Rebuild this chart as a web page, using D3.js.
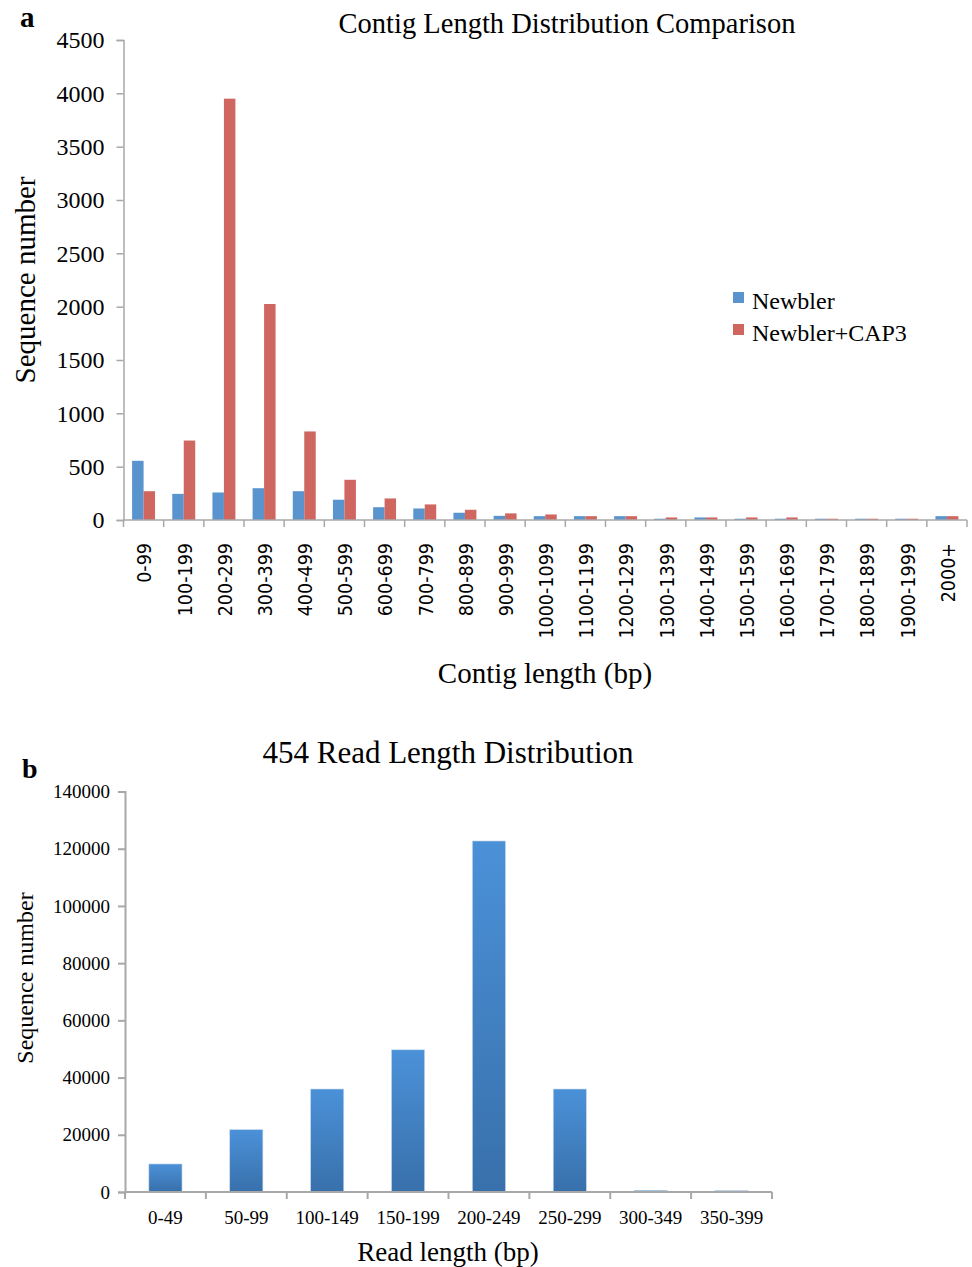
<!DOCTYPE html>
<html>
<head>
<meta charset="utf-8">
<script src="https://cdn.jsdelivr.net/npm/d3@7"></script>
<style>
  body { margin: 0; background: #fff; }
  text { font-family: "Liberation Serif", "Times New Roman", serif; fill: #000; }
</style>
</head>
<body>
<script>
// panel a data
var contigCats = ["0-99","100-199","200-299","300-399","400-499","500-599","600-699","700-799","800-899","900-999",
  "1000-1099","1100-1199","1200-1299","1300-1399","1400-1499","1500-1599","1600-1699","1700-1799","1800-1899","1900-1999","2000+"];
var seriesNames = ["Newbler", "Newbler+CAP3"];
var newbler = [555, 245, 258, 298, 270, 190, 120, 108, 68, 39, 36, 36, 36, 12, 24, 12, 12, 12, 12, 12, 36];
var newblerCap3 = [270, 745, 3950, 2025, 830, 377, 202, 146, 96, 62, 52, 36, 36, 24, 24, 24, 24, 12, 12, 12, 36];
var contigTicks = [0, 500, 1000, 1500, 2000, 2500, 3000, 3500, 4000, 4500];

// panel b data
var readCats = ["0-49","50-99","100-149","150-199","200-249","250-299","300-349","350-399"];
var readCounts = [9800, 21800, 36000, 49700, 122700, 36000, 600, 500];
var readTicks = [0, 20000, 40000, 60000, 80000, 100000, 120000, 140000];

var colors = { "Newbler": "#5a94cf", "Newbler+CAP3": "#cf6660" };
var axisColor = "#a8a8a8";

var svg = d3.select("body").append("svg").attr("width", 972).attr("height", 1267);

// ---------- panel a ----------
var x = d3.scaleBand().domain(contigCats).range([123.5, 967]);
var x1 = d3.scaleBand().domain(seriesNames).range([0, x.bandwidth()]).paddingOuter(0.75);
var y = d3.scaleLinear().domain([0, 4500]).range([520, 40]);

var rows = contigCats.map(function (c, i) {
  return { cat: c, vals: [ { s: "Newbler", v: newbler[i] }, { s: "Newbler+CAP3", v: newblerCap3[i] } ] };
});

var ga = svg.append("g");
ga.selectAll("g.grp").data(rows).enter().append("g")
  .attr("transform", function (d) { return "translate(" + x(d.cat) + ",0)"; })
  .selectAll("rect").data(function (d) { return d.vals; }).enter().append("rect")
  .attr("x", function (d) { return x1(d.s); })
  .attr("width", x1.bandwidth())
  .attr("y", function (d) { return y(d.v); })
  .attr("height", function (d) { return y(0) - y(d.v); })
  .attr("fill", function (d) { return colors[d.s]; });

// y axis a
var yAxisA = ga.append("g").attr("transform", "translate(123.5,0)")
  .call(d3.axisLeft(y).tickValues(contigTicks).tickSize(7).tickPadding(12).tickFormat(d3.format("d")));
yAxisA.select(".domain").attr("stroke", axisColor).attr("stroke-width", 1.5);
yAxisA.selectAll(".tick line").attr("stroke", axisColor).attr("stroke-width", 1.5);
yAxisA.selectAll(".tick text").style("font-family", "Liberation Serif, serif").style("font-size", "24px").attr("fill", "#000");

// x axis a
var xAxisA = ga.append("g").attr("transform", "translate(0,520)");
xAxisA.append("line").attr("x1", x.range()[0]).attr("x2", x.range()[1]).attr("stroke", axisColor).attr("stroke-width", 1.5);
xAxisA.selectAll("line.tk").data(contigCats.concat(["end"])).enter().append("line")
  .attr("x1", function (d) { return d === "end" ? x.range()[1] : x(d); })
  .attr("x2", function (d) { return d === "end" ? x.range()[1] : x(d); })
  .attr("y1", 0).attr("y2", 7).attr("stroke", axisColor).attr("stroke-width", 1.5);
xAxisA.selectAll("text.lab").data(contigCats).enter().append("text")
  .attr("transform", function (d) { return "translate(" + (x(d) + x.bandwidth() / 2 + 1) + ",23) rotate(-90)"; })
  .attr("text-anchor", "end").attr("dy", "0.35em")
  .style("font-family", "'DejaVu Sans Condensed', 'DejaVu Sans', sans-serif")
  .style("font-stretch", "condensed")
  .style("font-size", "19.5px")
  .text(function (d) { return d; });

// titles a
svg.append("text").attr("x", 20).attr("y", 27).style("font-size", "29px").style("font-weight", "bold").text("a");
svg.append("text").attr("x", 567).attr("y", 33).attr("text-anchor", "middle").style("font-size", "28.5px")
  .text("Contig Length Distribution Comparison");
svg.append("text").attr("transform", "translate(35,280) rotate(-90)").attr("text-anchor", "middle")
  .style("font-size", "29px").text("Sequence number");
svg.append("text").attr("x", 545).attr("y", 683).attr("text-anchor", "middle").style("font-size", "29px")
  .text("Contig length (bp)");

// legend
var leg = svg.append("g").attr("transform", "translate(733,292)");
leg.selectAll("g").data(seriesNames).enter().append("g")
  .attr("transform", function (d, i) { return "translate(0," + (i * 32) + ")"; })
  .each(function (d) {
    var g = d3.select(this);
    g.append("rect").attr("width", 11).attr("height", 11).attr("fill", colors[d]);
    g.append("text").attr("x", 19).attr("y", 17).style("font-size", "24px").text(d);
  });

// ---------- panel b ----------
var xb = d3.scaleBand().domain(readCats).range([125, 772]).paddingInner(0.59).paddingOuter(0.295);
var yb = d3.scaleLinear().domain([0, 140000]).range([1192, 791.5]);

var defs = svg.append("defs");
var grad = defs.append("linearGradient").attr("id", "barGrad").attr("x1", 0).attr("y1", 0).attr("x2", 0).attr("y2", 1);
grad.append("stop").attr("offset", "0%").attr("stop-color", "#4b91d8");
grad.append("stop").attr("offset", "100%").attr("stop-color", "#3870ab");

var gb = svg.append("g");
gb.selectAll("rect").data(readCounts).enter().append("rect")
  .attr("x", function (d, i) { return xb(readCats[i]); })
  .attr("width", xb.bandwidth())
  .attr("y", function (d) { return yb(d); })
  .attr("height", function (d) { return yb(0) - yb(d); })
  .attr("fill", "url(#barGrad)")
  .attr("stroke", "#c9d9ec").attr("stroke-width", 0.6);

var yAxisB = gb.append("g").attr("transform", "translate(125,0)")
  .call(d3.axisLeft(yb).tickValues(readTicks).tickSize(7).tickPadding(8).tickFormat(d3.format("d")));
yAxisB.select(".domain").attr("stroke", axisColor).attr("stroke-width", 2);
yAxisB.selectAll(".tick line").attr("stroke", axisColor).attr("stroke-width", 2);
yAxisB.selectAll(".tick text").style("font-family", "Liberation Serif, serif").style("font-size", "19px").attr("fill", "#000");

var xStep = (xb.range()[1] - xb.range()[0]) / readCats.length;
var xAxisB = gb.append("g").attr("transform", "translate(0,1192)");
xAxisB.append("line").attr("x1", 125).attr("x2", 772).attr("stroke", axisColor).attr("stroke-width", 2);
xAxisB.selectAll("line.tk").data(d3.range(readCats.length + 1)).enter().append("line")
  .attr("x1", function (i) { return 125 + i * xStep; })
  .attr("x2", function (i) { return 125 + i * xStep; })
  .attr("y1", 0).attr("y2", 7).attr("stroke", axisColor).attr("stroke-width", 2);
xAxisB.selectAll("text.lab").data(readCats).enter().append("text")
  .attr("x", function (d) { return xb(d) + xb.bandwidth() / 2; })
  .attr("y", 32).attr("text-anchor", "middle").style("font-size", "19px")
  .text(function (d) { return d; });

svg.append("text").attr("x", 22).attr("y", 778).style("font-size", "28px").style("font-weight", "bold").text("b");
svg.append("text").attr("x", 448).attr("y", 763).attr("text-anchor", "middle").style("font-size", "31px")
  .text("454 Read Length Distribution");
svg.append("text").attr("transform", "translate(33,978) rotate(-90)").attr("text-anchor", "middle")
  .style("font-size", "24px").text("Sequence number");
svg.append("text").attr("x", 448).attr("y", 1261).attr("text-anchor", "middle").style("font-size", "27px")
  .text("Read length (bp)");
</script>
</body>
</html>
